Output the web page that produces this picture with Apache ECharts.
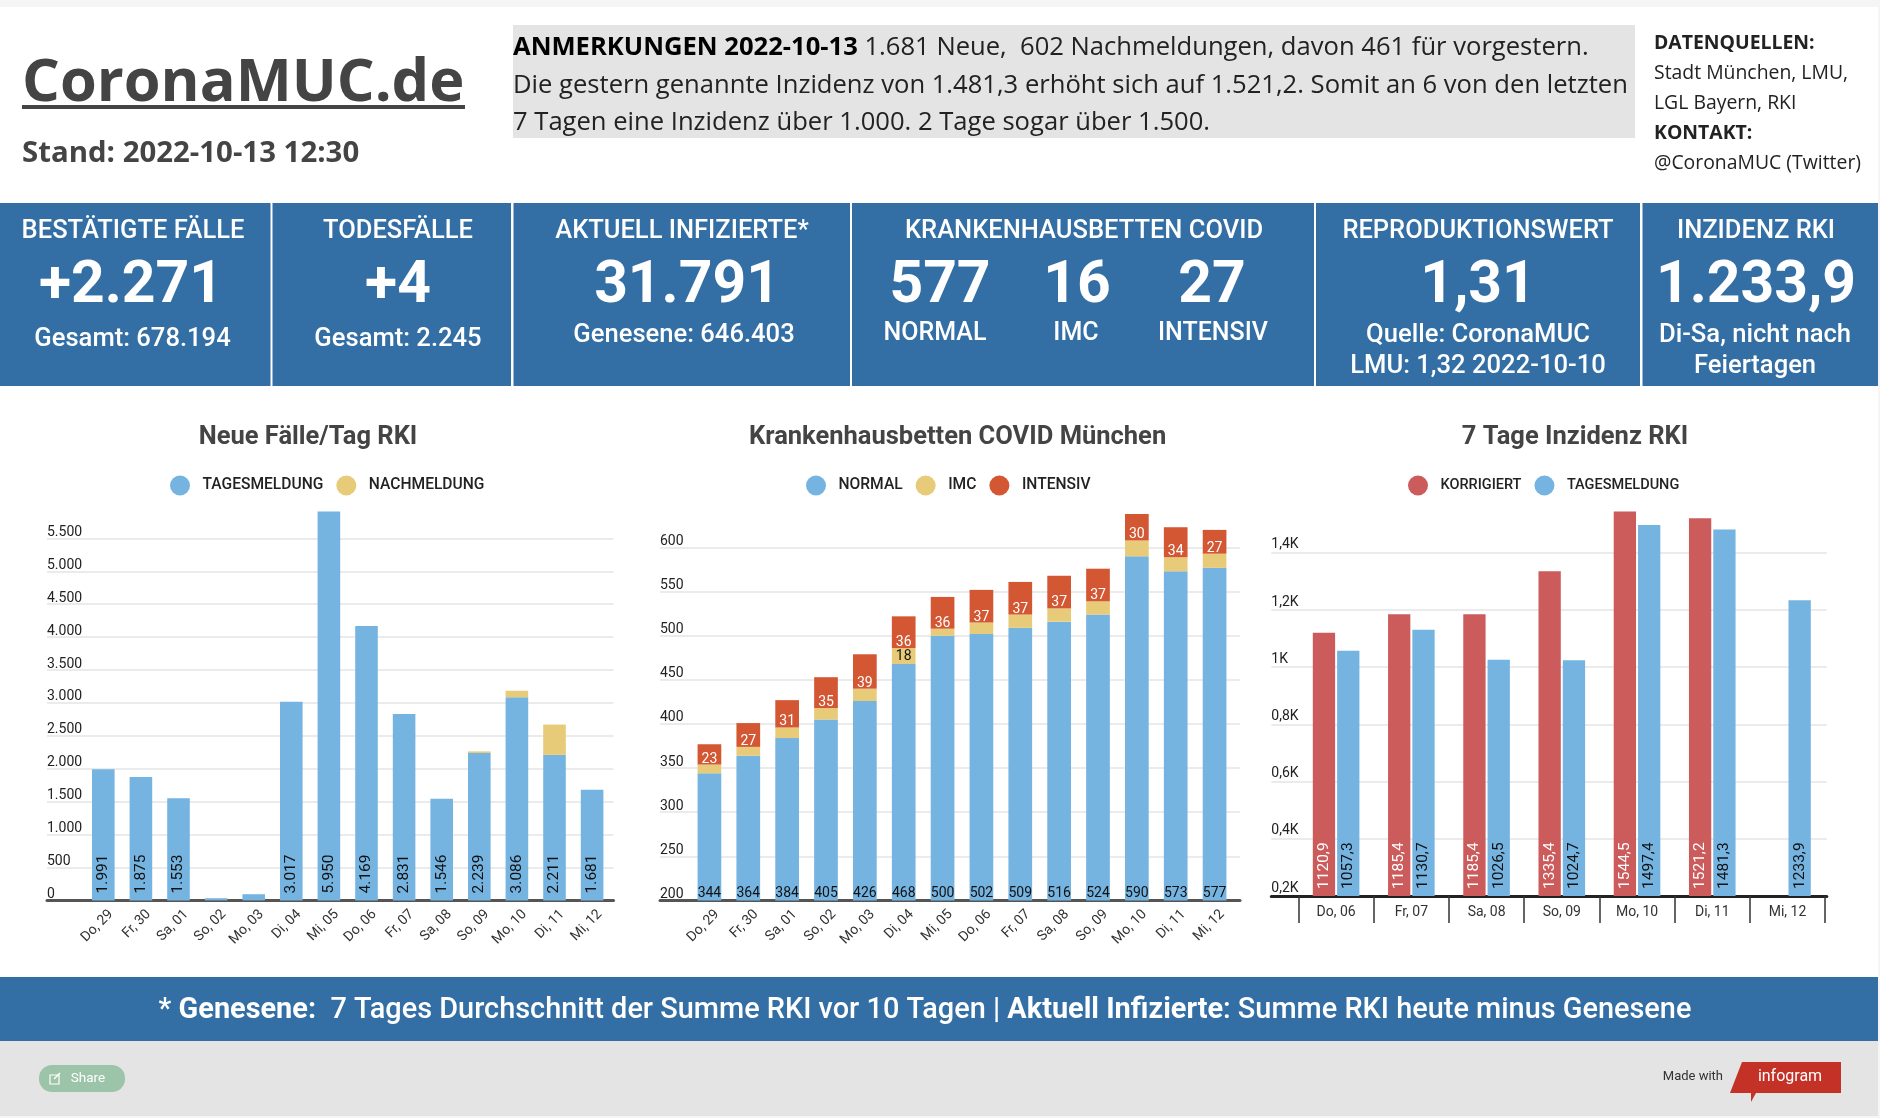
<!DOCTYPE html>
<html>
<head>
<meta charset="utf-8">
<title>CoronaMUC.de</title>
<style>
	html, body { margin: 0; padding: 0; background: #f5f5f5; }
	#chart { width: 1880px; height: 1118px; }
</style>
<script src="https://cdn.jsdelivr.net/npm/echarts@6/dist/echarts.min.js"></script>
</head>
<body>
<div id="chart"></div>
<script>
// Neue Faelle/Tag
const caseDays = ["Do, 29", "Fr, 30", "Sa, 01", "So, 02", "Mo, 03", "Di, 04", "Mi, 05", "Do, 06", "Fr, 07", "Sa, 08", "So, 09", "Mo, 10", "Di, 11", "Mi, 12"]
const caseDaily = [1991, 1875, 1553, 33, 94, 3017, 5950, 4169, 2831, 1546, 2239, 3086, 2211, 1681]
const caseLate = [0, 0, 0, 0, 0, 0, 0, 0, 0, 0, 25, 100, 461, 0]

// Krankenhausbetten
const bedNormal = [344, 364, 384, 405, 426, 468, 500, 502, 509, 516, 524, 590, 573, 577]
const bedImc = [10, 10, 12, 13, 14, 18, 8, 13, 15, 15, 15, 18, 16, 16]
const bedIcu = [23, 27, 31, 35, 39, 36, 36, 37, 37, 37, 37, 30, 34, 27]

// 7 Tage Inzidenz
const incDays = ["Do, 06", "Fr, 07", "Sa, 08", "So, 09", "Mo, 10", "Di, 11", "Mi, 12"]
const incFixed = [1120.9, 1185.4, 1185.4, 1335.4, 1544.5, 1521.2, null]
const incDaily = [1057.3, 1130.7, 1026.5, 1024.7, 1497.4, 1481.3, 1233.9]

const BLUE = "#75b4e1"
const YELLOW = "#e8cb78"
const ORANGE = "#d45733"
const RED = "#cc5b5b"
const PANEL = "#336fa4"
const GREY = "#e4e4e4"
const DARK = "#444444"
const HEAD = '"Open Sans"'
const NUM = "Roboto"

const dots = v => String(v).replace(/\B(?=(\d{3})+$)/g, ".")
const comma = v => String(v).replace(".", ",")

function txt(x, y, text, size, opts = {}) {
	return {
		type: "text", x, y,
		style: {
			text,
			font: (opts.weight || 400) + " " + size + "px " + (opts.family || NUM),
			fill: opts.fill || "#fff",
			textAlign: opts.align || "center",
			textVerticalAlign: "middle",
			rich: opts.rich
		}
	}
}

// kopfzeilen: links ausgerichtet, y ist die grundlinie
function line(x, y, text, size, weight, fill, rich) {
	return txt(x, y + 3 - size * 0.36, text, size, { family: HEAD, weight, fill, align: "left", rich })
}

function box(x, y, width, height, fill, r) {
	return { type: "rect", shape: { x, y, width, height, r: r || 0 }, style: { fill } }
}

const tile = 25.5, big = 58.8, sub = 25.6
const graphics = [
	box(0, 7, 1878, 1109, "#fff"),
	// kopf
	line(22, 102, "CoronaMUC.de", 59.5, 700, DARK),
	box(22, 105, 443, 4, DARK),
	line(22, 161, "Stand: 2022-10-13 12:30", 29.4, 700, DARK),
	box(513, 25, 1122, 113, GREY),
	line(513, 54, "{b|ANMERKUNGEN 2022-10-13} 1.681 Neue,  602 Nachmeldungen, davon 461 für vorgestern.", 25.6, 400, "#222", {
		b: { font: '700 25.6px "Open Sans"', fill: "#000" }
	}),
	line(513, 92, "Die gestern genannte Inzidenz von 1.481,3 erhöht sich auf 1.521,2. Somit an 6 von den letzten", 25.6, 400, "#222"),
	line(513, 129, "7 Tagen eine Inzidenz über 1.000. 2 Tage sogar über 1.500.", 25.6, 400, "#222"),
	line(1654, 47, "DATENQUELLEN:", 19.4, 700, "#222"),
	line(1654, 77, "Stadt München, LMU,", 19.4, 400, "#222"),
	line(1654, 107, "LGL Bayern, RKI", 19.4, 400, "#222"),
	line(1654, 137, "KONTAKT:", 19.4, 700, "#222"),
	line(1654, 167, "@CoronaMUC (Twitter)", 19.4, 400, "#222"),
	// kacheln
	box(0, 203, 270.5, 183, PANEL),
	box(272.5, 203, 238.5, 183, PANEL),
	box(513.5, 203, 336.5, 183, PANEL),
	box(852, 203, 462, 183, PANEL),
	box(1316, 203, 324, 183, PANEL),
	box(1642.5, 203, 235.5, 183, PANEL),
	txt(133, 231.5, "BESTÄTIGTE FÄLLE", tile, { weight: 500 }),
	txt(131, 287, "+2.271", big, { weight: 700 }),
	txt(132.5, 339.5, "Gesamt: 678.194", sub, { weight: 500 }),
	txt(398, 231.5, "TODESFÄLLE", tile, { weight: 500 }),
	txt(398, 287, "+4", big, { weight: 700 }),
	txt(398, 339.5, "Gesamt: 2.245", sub, { weight: 500 }),
	txt(682, 231.5, "AKTUELL INFIZIERTE*", tile, { weight: 500 }),
	txt(687, 287, "31.791", big, { weight: 700 }),
	txt(684, 335.5, "Genesene: 646.403", sub, { weight: 500 }),
	txt(1084, 231.5, "KRANKENHAUSBETTEN COVID", tile, { weight: 500 }),
	txt(940, 287, "577", big, { weight: 700 }),
	txt(1077, 287, "16", big, { weight: 700 }),
	txt(1212, 287, "27", big, { weight: 700 }),
	txt(935, 334, "NORMAL", 25, { weight: 500 }),
	txt(1076, 334, "IMC", 25, { weight: 500 }),
	txt(1213, 334, "INTENSIV", 25, { weight: 500 }),
	txt(1478, 232, "REPRODUKTIONSWERT", tile, { weight: 500 }),
	txt(1478, 287, "1,31", big, { weight: 700 }),
	txt(1478, 335.5, "Quelle: CoronaMUC", sub, { weight: 500 }),
	txt(1478, 366.5, "LMU: 1,32 2022-10-10", sub, { weight: 500 }),
	txt(1756, 231.5, "INZIDENZ RKI", tile, { weight: 500 }),
	txt(1756, 287, "1.233,9", big, { weight: 700 }),
	txt(1755, 335.5, "Di-Sa, nicht nach", sub, { weight: 500 }),
	txt(1755, 366.5, "Feiertagen", sub, { weight: 500 }),
	// fuss
	box(0, 977, 1878, 64, PANEL),
	txt(925, 1011, "* {b|Genesene:}  7 Tages Durchschnitt der Summe RKI vor 10 Tagen | {b|Aktuell Infizierte}: Summe RKI heute minus Genesene", 28.9, {
		weight: 500,
		rich: { b: { font: "700 28.9px Roboto", fill: "#fff" } }
	}),
	box(0, 1041, 1878, 75, GREY),
	box(39, 1065, 86, 27, "#9cc4a8", 13),
	txt(88, 1079, "Share", 13.5),
	{ type: "rect", shape: { x: 50, y: 1075, width: 9, height: 9 }, style: { fill: "none", stroke: "#fff", lineWidth: 1.2 } },
	{ type: "polyline", shape: { points: [[54, 1079], [60, 1073]] }, style: { fill: "none", stroke: "#fff", lineWidth: 1.4 } },
	txt(1723, 1077, "Made with", 13, { fill: "#333", align: "right" }),
	{ type: "polygon", shape: { points: [[1742, 1062], [1841, 1062], [1841, 1093], [1756, 1093], [1751, 1102], [1751, 1093], [1730, 1093]] }, style: { fill: "#c43127" } },
	txt(1790, 1077, "infogram", 16)
]

// jede Grafik: hintergrund-grid (linien, y-beschriftung, achse) plus grid fuer die balken
const grids = [], xAxes = [], yAxes = [], series = []

function plot(b, f, yRange, interval, yFmt, xOpts, lineColor, labelBox) {
	const bi = grids.length
	grids.push({ left: b.left, width: b.width, top: yRange.top, height: yRange.bottom - yRange.top })
	grids.push({ left: f.left, width: f.width, top: yRange.top, height: yRange.bottom - yRange.top })
	xAxes.push({
		gridIndex: bi, type: "value", min: 0, max: 1,
		axisLabel: { show: false }, axisTick: { show: false }, splitLine: { show: false },
		axisLine: { show: true, onZero: false, lineStyle: { color: lineColor, width: 3 } }
	})
	yAxes.push({
		gridIndex: bi, type: "value", min: yRange.min, max: yRange.max, interval,
		axisLine: { show: false }, axisTick: { show: false },
		splitLine: { show: true, showMaxLine: false, showMinLine: false, lineStyle: { color: GREY, width: 1.5 } },
		axisLabel: {
			inside: true, margin: 0, showMaxLabel: false, showMinLabel: true, align: "left", verticalAlign: "bottom",
			lineHeight: labelBox, fontFamily: NUM, fontSize: 14, color: "#222", formatter: yFmt
		}
	})
	xAxes.push(Object.assign({
		gridIndex: bi + 1, type: "category", axisLine: { show: false }, axisTick: { show: false }, splitLine: { show: false }
	}, xOpts))
	yAxes.push({ gridIndex: bi + 1, type: "value", min: yRange.min, max: yRange.max, interval, show: false, splitLine: { show: false } })
	return bi + 1
}

function bar(name, data, axis, color, barWidth, extra) {
	series.push(Object.assign({
		name, type: "bar", data, xAxisIndex: axis, yAxisIndex: axis, barWidth,
		itemStyle: { color }, animation: false
	}, extra))
}

function sideLabel(fill, fmt) {
	return {
		show: true, position: "insideBottom", distance: 7, rotate: 90, align: "left", verticalAlign: "middle",
		fontFamily: NUM, fontSize: 15.5, color: fill, formatter: fmt
	}
}

const slanted = data => ({
	data,
	axisLabel: {
		interval: 0, rotate: 45, margin: 4, align: "right", verticalAlign: "top", padding: [4, 0, 0, 0],
		fontFamily: NUM, fontSize: 14, color: "#333"
	}
})

// Neue Faelle
const a0 = plot({ left: 47, width: 566.5 }, { left: 84.5, width: 526.4 }, { top: 511.5, bottom: 900.4, min: 0, max: 5909 }, 500, v => dots(v), slanted(caseDays), "#555", 12)
bar("TAGESMELDUNG", caseDaily, a0, BLUE, 22.6, {
	stack: "c",
	label: sideLabel("#111", p => p.value < 200 ? "" : dots(p.value))
})
bar("NACHMELDUNG", caseLate, a0, YELLOW, 22.6, { stack: "c" })

// Betten
const a1 = plot({ left: 660, width: 580 }, { left: 690, width: 544 }, { top: 514, bottom: 900.4, min: 200, max: 638 }, 50, v => v, slanted(caseDays), "#555", 12)
bar("NORMAL", bedNormal, a1, BLUE, 23.7, {
	stack: "b",
	label: { show: true, position: "insideBottom", distance: 0, fontFamily: NUM, fontSize: 14, color: "#111" }
})
bar("IMC", bedImc, a1, YELLOW, 23.7, {
	stack: "b",
	label: { show: true, position: "inside", fontFamily: NUM, fontSize: 14, color: "#111", formatter: p => p.dataIndex == 5 ? p.value : "" }
})
bar("INTENSIV", bedIcu, a1, ORANGE, 23.7, {
	stack: "b",
	label: { show: true, position: "insideBottom", distance: -1.5, fontFamily: NUM, fontSize: 14, color: "#fff" }
})

// Inzidenz
const a2 = plot({ left: 1271.3, width: 555.5 }, { left: 1298.5, width: 526.6 }, { top: 511.5, bottom: 896, min: 200, max: 1544.5 }, 200, v => comma(v / 1000) + "K", {
	data: incDays,
	axisTick: { show: true, length: 27, lineStyle: { color: "#333", width: 1.5 } },
	axisLabel: { interval: 0, margin: 9, fontFamily: NUM, fontSize: 14, color: "#333" }
}, "#222", 16)
bar("KORRIGIERT", incFixed, a2, RED, 22.3, {
	barGap: "9%",
	label: sideLabel("#fff", p => comma(p.value))
})
bar("TAGESMELDUNG", incDaily, a2, BLUE, 22.3, {
	label: sideLabel("#111", p => comma(p.value))
})

const legendBase = { orient: "horizontal", top: 470.5, icon: "circle", itemWidth: 20, itemHeight: 20, itemGap: 13, selectedMode: false }
const legendText = size => ({ fontFamily: NUM, fontWeight: 500, fontSize: size, color: "#222", padding: [0, 0, 0, 7.5] })

const chart = echarts.init(document.querySelector("#chart"))
chart.setOption({
	animation: false,
	backgroundColor: "#f5f5f5",
	title: [
		["Neue Fälle/Tag RKI", 303],
		["Krankenhausbetten COVID München", 952.6],
		["7 Tage Inzidenz RKI", 1570]
	].map(([text, left]) => ({
		text, left, top: 420, textAlign: "center",
		textStyle: { fontFamily: NUM, fontWeight: 700, fontSize: 25.5, color: DARK }
	})),
	legend: [
		Object.assign({}, legendBase, { left: 165, data: ["TAGESMELDUNG", "NACHMELDUNG"], textStyle: legendText(15.6) }),
		Object.assign({}, legendBase, { left: 801, data: ["NORMAL", "IMC", "INTENSIV"], textStyle: legendText(15.6) }),
		Object.assign({}, legendBase, { left: 1403, data: ["KORRIGIERT", "TAGESMELDUNG"], textStyle: legendText(14.5) })
	],
	grid: grids,
	xAxis: xAxes,
	yAxis: yAxes,
	series,
	graphic: graphics
})
</script>
</body>
</html>
